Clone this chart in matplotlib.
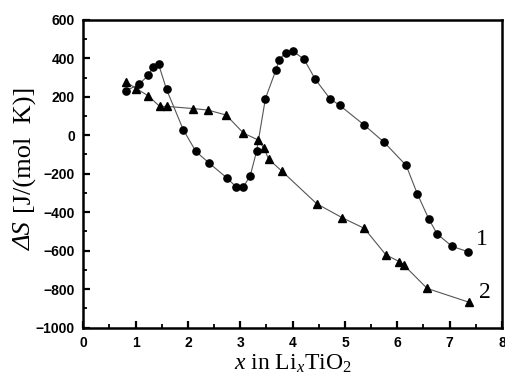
import numpy as np
import matplotlib
matplotlib.use('Agg')
import matplotlib.pyplot as plt

plt.rcParams['mathtext.fontset'] = 'custom'
plt.rcParams['mathtext.rm'] = 'Liberation Serif'
plt.rcParams['mathtext.it'] = 'Liberation Serif:italic'

# curve 1 (circles)
x1 = [0.81, 1.07, 1.24, 1.34, 1.44, 1.59, 1.91, 2.15, 2.41, 2.74, 2.92, 3.06,
      3.19, 3.31, 3.48, 3.68, 3.74, 3.87, 4.00, 4.22, 4.43, 4.71, 4.90, 5.36,
      5.75, 6.17, 6.38, 6.60, 6.76, 7.05, 7.35]
s1 = [230, 266, 311, 356, 368, 238, 29, -84, -146, -221, -268, -268,
      -210, -84, 191, 339, 392, 430, 439, 394, 292, 191, 155, 55,
      -37, -157, -303, -434, -513, -578, -605]

# curve 2 (triangles)
x2 = [0.81, 1.01, 1.24, 1.46, 1.59, 2.09, 2.38, 2.73, 3.06, 3.33, 3.45, 3.54,
      3.80, 4.46, 4.95, 5.37, 5.78, 6.04, 6.13, 6.57, 7.37]
s2 = [278, 243, 205, 150, 150, 139, 131, 105, 11, -23, -66, -124,
      -188, -356, -429, -484, -621, -657, -676, -796, -868]

fig = plt.figure(figsize=(5.05, 3.81), dpi=100)
ax = fig.add_axes([0.165, 0.140, 0.829, 0.808])

ax.plot(x1, s1, '-', color='#555555', lw=0.8, zorder=1)
ax.plot(x1, s1, 'o', color='black', ms=5.2, zorder=2)
ax.plot(x2, s2, '-', color='#555555', lw=0.8, zorder=1)
ax.plot(x2, s2, '^', color='black', ms=5.8, zorder=2)

ax.text(7.51, -543, '1', fontsize=17, family='Liberation Serif', va='center', ha='left')
ax.text(7.57, -817, '2', fontsize=17, family='Liberation Serif', va='center', ha='left')

ax.set_xlim(0, 8)
ax.set_ylim(-1000, 600)
ax.set_xticks(np.arange(0, 9, 1))
ax.set_xticks(np.arange(0, 8.01, 0.5), minor=True)
ax.set_yticks(np.arange(-1000, 601, 200))
ax.set_yticks(np.arange(-1000, 601, 100), minor=True)

for sp in ax.spines.values():
    sp.set_linewidth(1.8)
ax.tick_params(which='major', direction='in', length=5, width=1.6, pad=6)
ax.tick_params(which='minor', direction='in', length=3, width=1.3)
ax.tick_params(axis='x', which='both', top=False)
ax.tick_params(axis='y', which='both', right=False)
for lab in ax.get_xticklabels() + ax.get_yticklabels():
    lab.set_family('Liberation Sans')
    lab.set_fontweight('bold')
    lab.set_fontsize(10)

ax.set_xlabel(r'$x$ in Li$_x$TiO$_2$', fontsize=17, family='Liberation Serif', labelpad=2)

# y label: italic "ΔS" followed by upright units
t1 = fig.text(0.05, 1 - 250 / 381, '\u0394S', fontsize=19, family='Liberation Serif',
              style='italic', rotation=90, ha='center', va='bottom')
fig.canvas.draw()
bb = t1.get_window_extent()
fig.text(0.05, (bb.y1 + 8) / fig.bbox.height, '[J/(mol  K)]', fontsize=19,
         family='Liberation Serif', rotation=90, ha='center', va='bottom')

fig.savefig('out.png', dpi=100)
